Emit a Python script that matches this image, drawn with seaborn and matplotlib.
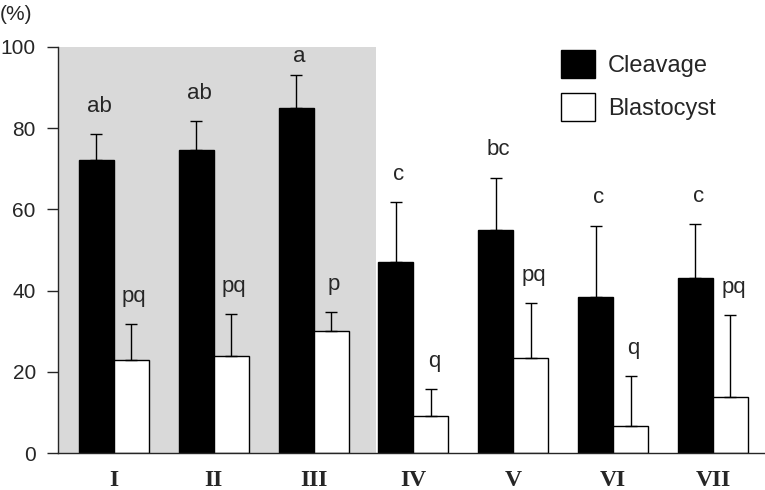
import numpy as np
import pandas as pd
import matplotlib
matplotlib.use("Agg")
import matplotlib.pyplot as plt
from matplotlib.patches import Patch
import seaborn as sns

# data
groups = ["I", "II", "III", "IV", "V", "VI", "VII"]
cleavage = [72.1, 74.5, 85.0, 47.1, 55.0, 38.3, 43.2]
cleavage_err = [6.5, 7.2, 8.1, 14.6, 12.8, 17.7, 13.2]
blastocyst = [23.0, 24.0, 30.0, 9.1, 23.4, 6.6, 13.8]
blastocyst_err = [8.8, 10.2, 4.6, 6.7, 13.6, 12.3, 20.1]
cleavage_letters = ["ab", "ab", "a", "c", "bc", "c", "c"]
blastocyst_letters = ["pq", "pq", "p", "q", "pq", "q", "pq"]

df = pd.DataFrame({
    "group": groups * 2,
    "stage": ["Cleavage"] * 7 + ["Blastocyst"] * 7,
    "rate": cleavage + blastocyst,
})

sns.set_style("ticks")
plt.rcParams["font.family"] = ["Liberation Sans", "DejaVu Sans"]

fig = plt.figure(figsize=(7.65, 4.9), dpi=100)
ax = fig.add_axes([0.0758, 0.0755, 0.924, 0.829])

sns.barplot(data=df, x="group", y="rate", hue="stage", order=groups,
            hue_order=["Cleavage", "Blastocyst"],
            palette=["black", "white"], edgecolor="black", linewidth=1,
            width=0.7, errorbar=None, legend=False, ax=ax, zorder=2)

# shaded region behind groups I-III
ax.axvspan(-0.56, 2.625, color="#d9d9d9", zorder=0, lw=0)

# upward error bars and significance letters
for cont, errs, letters in zip(ax.containers,
                               [cleavage_err, blastocyst_err],
                               [cleavage_letters, blastocyst_letters]):
    xs = np.array([b.get_x() + b.get_width() / 2 for b in cont])
    ys = np.array([b.get_height() for b in cont])
    errs = np.array(errs)
    ax.errorbar(xs, ys, yerr=[np.zeros_like(errs), errs], fmt="none",
                ecolor="black", elinewidth=1, capsize=4.5, capthick=1, zorder=3)
    for x, y, e, t in zip(xs, ys, errs, letters):
        ax.text(x + 0.03, min(y + e + 6.8, 97.5), t, ha="center", va="center",
                fontsize=16)

ax.set_xlim(-0.56, 6.52)
ax.set_ylim(0, 100)
ax.set_yticks([0, 20, 40, 60, 80, 100])
ax.tick_params(axis="y", labelsize=15, length=8, width=1, direction="out", pad=8)
ax.tick_params(axis="x", length=0, pad=12)
for lab in ax.get_xticklabels():
    lab.set_family(["Liberation Serif", "DejaVu Serif"])
    lab.set_fontweight("bold")
    lab.set_fontsize(17)
ax.set_xlabel("")
ax.set_ylabel("")
for s in ["top", "right"]:
    ax.spines[s].set_visible(False)
ax.spines["left"].set_linewidth(1)
ax.spines["bottom"].set_linewidth(1)
ax.set_facecolor("white")

fig.text(0.0, 0.99, "(%)", fontsize=15, ha="left", va="top")

handles = [Patch(facecolor="black", edgecolor="black", label="Cleavage"),
           Patch(facecolor="white", edgecolor="black", label="Blastocyst")]
fig.legend(handles=handles, loc="upper left", bbox_to_anchor=(0.733, 0.898),
           frameon=False, fontsize=17, handlelength=1.45, handleheight=1.45,
           handletextpad=0.55, labelspacing=0.65, borderpad=0, borderaxespad=0)

fig.savefig("out.png", dpi=100)
